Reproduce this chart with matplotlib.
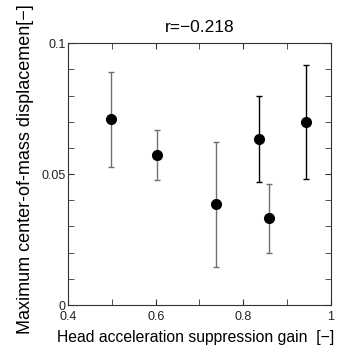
import matplotlib
matplotlib.use("Agg")
import matplotlib.pyplot as plt
from matplotlib.ticker import MultipleLocator

plt.rcParams['font.family'] = ['Liberation Sans', 'DejaVu Sans']

gain = [0.497, 0.602, 0.738, 0.836, 0.860, 0.944]
disp = [0.0710, 0.0574, 0.0386, 0.0636, 0.0331, 0.0698]
err_low = [0.0526, 0.0479, 0.0145, 0.0470, 0.0200, 0.0481]
err_high = [0.0890, 0.0669, 0.0624, 0.0800, 0.0464, 0.0917]
bar_colors = ['#707070', '#707070', '#707070', '#000000', '#707070', '#000000']
title = 'r=\u22120.218'
xlabel = 'Head acceleration suppression gain  [\u2212]'
ylabel = 'Maximum center-of-mass displacemen[\u2212]'

fig = plt.figure(figsize=(3.37, 3.52), dpi=100)
ax = fig.add_axes([0.2027, 0.1335, 0.7783, 0.7435])

for x, y, lo, hi, c in zip(gain, disp, err_low, err_high, bar_colors):
    ax.errorbar([x], [y], yerr=[[y - lo], [hi - y]], fmt='none', ecolor=c,
                elinewidth=1.0, capsize=2, capthick=1.0)
ax.plot(gain, disp, 'o', color='black', markersize=7, linestyle='none')

ax.set_xlim(0.4, 1.0)
ax.set_ylim(0, 0.1)
ax.set_xticks([0.4, 0.6, 0.8, 1.0])
ax.set_xticklabels(['0.4', '0.6', '0.8', '1'])
ax.xaxis.set_minor_locator(MultipleLocator(0.1))
ax.set_yticks([0, 0.05, 0.1])
ax.set_yticklabels(['0', '0.05', '0.1'])
ax.yaxis.set_minor_locator(MultipleLocator(0.01))
ax.tick_params(which='both', direction='in', top=True, right=True, labelsize=9,
               colors='#333333', labelcolor='#222222')
ax.tick_params(axis='x', which='major', length=4, pad=4)
ax.tick_params(axis='y', which='major', length=4, pad=2)
ax.tick_params(which='minor', length=4)
for s in ax.spines.values():
    s.set_linewidth(0.8)
    s.set_color('#333333')

ax.set_title(title, fontsize=12.5, pad=8)
ax.set_xlabel(xlabel, fontsize=11.3)
ax.xaxis.set_label_coords(0.485, -0.095)
ax.set_ylabel(ylabel, fontsize=13)
ax.yaxis.set_label_coords(-0.13, 0.52)

fig.savefig('out.png', dpi=100)
